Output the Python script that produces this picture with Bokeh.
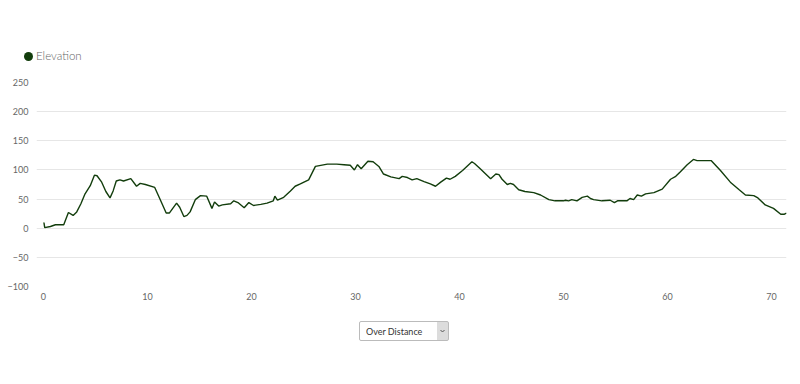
from bokeh.plotting import figure
from bokeh.models import Select, Range1d, FixedTicker, InlineStyleSheet, Div
from bokeh.layouts import column
from bokeh.embed import file_html
from bokeh.resources import INLINE

distance_km = [0.0, 0.05, 0.12, 0.67, 1.15, 1.95, 2.4, 2.85, 3.2, 3.6, 4.0, 4.5, 4.9, 5.15, 5.6, 6.0,
               6.4, 6.7, 7.0, 7.35, 7.7, 8.4, 8.95, 9.3, 9.8, 10.7, 11.2, 11.8, 12.1, 12.8, 13.1, 13.5,
               13.8, 14.1, 14.6, 15.1, 15.7, 16.2, 16.45, 16.85, 17.2, 18.0, 18.3, 18.7, 19.3, 19.75,
               20.2, 20.9, 21.5, 22.1, 22.25, 22.5, 23.1, 23.75, 24.2, 24.7, 25.5, 26.15, 27.3, 28.2,
               28.9, 29.5, 29.9, 30.2, 30.55, 31.2, 31.7, 32.25, 32.7, 33.4, 34.2, 34.5, 35.0, 35.45,
               35.9, 36.6, 37.2, 37.7, 38.2, 38.75, 39.1, 39.6, 40.3, 41.2, 41.45, 42.0, 43.0, 43.5,
               43.8, 44.1, 44.6, 44.9, 45.2, 45.7, 46.3, 47.15, 47.8, 48.6, 49.2, 50.0, 50.2, 50.5,
               50.8, 51.3, 51.8, 52.3, 52.6, 52.9, 53.7, 54.5, 54.9, 55.2, 56.1, 56.4, 56.75, 57.1,
               57.5, 57.9, 58.7, 59.5, 60.3, 60.8, 61.25, 61.9, 62.5, 62.85, 64.2, 65.1, 66.05, 66.9,
               67.5, 68.3, 68.7, 69.4, 70.2, 70.9, 71.25, 71.45]
elevation_m = [9, 9, 1, 3, 6, 6, 27, 22, 28, 42, 59, 73, 91, 90, 79, 63,
               52, 64, 81, 83, 81, 85, 72, 77, 75, 70, 50, 26, 26, 43, 36, 20,
               22, 28, 49, 56, 55, 34, 45, 38, 40, 42, 47, 44, 35, 44,
               39, 41, 43, 47, 55, 48, 53, 64, 72, 76, 83, 106, 110, 110,
               109, 108, 100, 109, 102, 115, 114, 106, 93, 88, 85, 89, 87, 83,
               85, 80, 76, 72, 79, 86, 84, 89, 99, 114, 111, 102, 85, 93,
               92, 84, 75, 77, 75, 66, 63, 61, 57, 49, 47, 47, 48, 47,
               49, 47, 53, 55, 51, 49, 47, 48, 44, 47, 47, 51, 49, 57,
               55, 59, 61, 67, 84, 89, 97, 109, 118, 116, 116, 99, 79, 66,
               57, 56, 52, 40, 34, 24, 24, 26]
y_ticks = [-100, -50, 0, 50, 100, 150, 200, 250]
x_ticks = [0, 10, 20, 30, 40, 50, 60, 70]
series_name = "Elevation"
mode_options = ["Over Distance"]

FONT = "Lato"
GREEN = "#123d0c"

# legend strip above the chart
head = Div(width=792, height=74, margin=0,
           text=('<div style="padding:48px 0 0 24px; font-family:Lato, sans-serif; font-size:11.5px; '
                 'font-weight:300; line-height:16px; color:#666666; white-space:nowrap;">'
                 '<span style="display:inline-block; width:9px; height:9px; border-radius:50%%; '
                 'background:%s; vertical-align:-1px; margin-right:3px;"></span>%s</div>')
                % (GREEN, series_name))

p = figure(width=792, height=238, output_backend="svg", toolbar_location=None,
           min_border_left=36, min_border_right=6, min_border_top=8, min_border_bottom=26,
           x_range=Range1d(-0.67, 71.45), y_range=Range1d(-100, 250))
p.outline_line_color = None
p.background_fill_color = "white"
p.border_fill_color = "white"

line = p.line(distance_km, elevation_m, line_color=GREEN, line_width=1.4)

p.xgrid.grid_line_color = None
p.ygrid.grid_line_color = "#e6e6e6"
p.ygrid.grid_line_width = 1

p.yaxis.ticker = FixedTicker(ticks=y_ticks)
p.xaxis.ticker = FixedTicker(ticks=x_ticks)
for ax in (p.xaxis[0], p.yaxis[0]):
    ax.axis_line_color = None
    ax.major_tick_line_color = None
    ax.minor_tick_line_color = None
    ax.major_tick_out = 0
    ax.major_tick_in = 0
    ax.minor_tick_out = 0
    ax.minor_tick_in = 0
    ax.major_label_text_font = FONT
    ax.major_label_text_font_size = "9px"
    ax.major_label_text_color = "#666666"
p.yaxis.major_label_standoff = 8
p.xaxis.major_label_standoff = 6

arrow = ("url(\"data:image/svg+xml;utf8,<svg xmlns='http://www.w3.org/2000/svg' width='11' height='18'>"
         "<rect width='11' height='18' fill='%23dcdcdc'/><path d='M3.5 8 L5.5 10 L7.5 8' stroke='%23555' "
         "fill='none'/></svg>\")")
css = InlineStyleSheet(css="""
select.bk-input { font-size: 9px !important; height: 20px !important; min-height: 20px !important;
  padding: 0 14px 0 6px !important; color: #333 !important;
  border: 1px solid #bbb !important; border-radius: 2px !important; font-family: 'Lato', sans-serif !important;
  appearance: none !important; -webkit-appearance: none !important; background-color: #fff !important;
  background-image: %s !important; background-repeat: no-repeat !important;
  background-position: right 0 center !important; background-size: 11px 18px !important; }
""" % arrow)
sel = Select(options=mode_options, value=mode_options[0], width=90, height=20,
             margin=(9, 0, 0, 359), stylesheets=[css])

layout = column(head, p, sel, spacing=0)
open("out.html", "w").write(file_html(layout, INLINE))
